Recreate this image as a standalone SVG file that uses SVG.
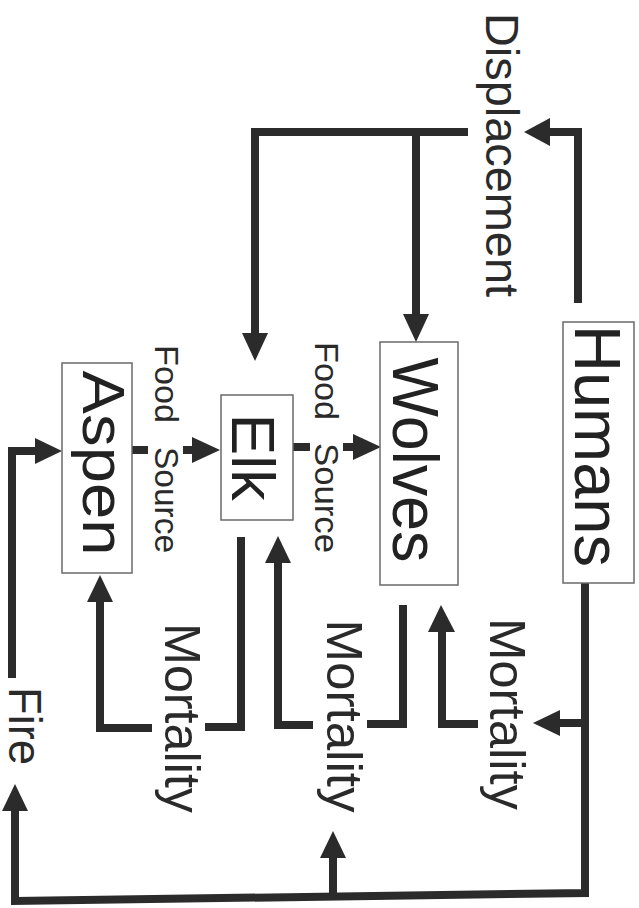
<svg xmlns="http://www.w3.org/2000/svg" width="639" height="908" viewBox="0 0 639 908">
<style>
.box{fill:#fff;stroke:#6a6a6a;stroke-width:1.5}
.node{font-family:"Liberation Sans",Arial,sans-serif;fill:#222}
.lbl{font-family:"Liberation Sans",Arial,sans-serif;fill:#2a2a2a}
.ln{fill:none;stroke:#2b2b2b;stroke-width:8;stroke-linejoin:miter;stroke-linecap:butt}
.ah{fill:#2b2b2b}
</style>
<rect width="639" height="908" fill="#fff"/>
<g id="connectors">
  <path class="ln" d="M468,132 H255 V335"/>
  <polygon class="ah" points="242,333 268,333 255,361"/>
  <path class="ln" d="M416,132 V316"/>
  <polygon class="ah" points="403,314 429,314 416,342"/>
  <path class="ln" d="M578,303 V132 H548"/>
  <polygon class="ah" points="550,118 550,146 524,132"/>
  <path class="ln" d="M132,450 H148"/>
  <path class="ln" d="M183,450 H195"/>
  <polygon class="ah" points="192,437 192,463 220,450"/>
  <path class="ln" d="M292,447 H310"/>
  <path class="ln" d="M343,447 H356"/>
  <polygon class="ah" points="353,434 353,460 381,447"/>
  <path class="ln" d="M12,678 V451 H37"/>
  <polygon class="ah" points="35,438 35,464 62,451"/>
  <path class="ln" d="M15,810 V901 L585,893 V583"/>
  <polygon class="ah" points="2,811 28,811 15,784"/>
  <path class="ln" d="M585,723 H558"/>
  <polygon class="ah" points="560,710 560,736 533,723"/>
  <path class="ln" d="M333,893 V856"/>
  <polygon class="ah" points="320,858 346,858 333,831"/>
  <path class="ln" d="M478,724 H442 V630"/>
  <polygon class="ah" points="428,632 455,632 441,605"/>
  <path class="ln" d="M403,605 V724 H367"/>
  <path class="ln" d="M313,725 H278 V561"/>
  <polygon class="ah" points="265,563 291,563 278,536"/>
  <path class="ln" d="M241,537 V727 H205"/>
  <path class="ln" d="M152,728 H100 V600"/>
  <polygon class="ah" points="87,602 113,602 100,575"/>
</g>
<g id="aspen">
  <rect class="box" x="62" y="363" width="70" height="210"/>
  <text class="node" font-size="60" text-anchor="middle" textLength="185" lengthAdjust="spacingAndGlyphs" transform="translate(83,463) rotate(90)">Aspen</text>
</g>
<g id="elk">
  <rect class="box" x="221" y="395" width="72" height="125"/>
  <text class="node" font-size="62" text-anchor="middle" textLength="87" lengthAdjust="spacingAndGlyphs" transform="translate(232,457) rotate(90)">Elk</text>
</g>
<g id="wolves">
  <rect class="box" x="380" y="342" width="78" height="243"/>
  <text class="node" font-size="64" text-anchor="middle" textLength="205" lengthAdjust="spacingAndGlyphs" transform="translate(393,460) rotate(90)">Wolves</text>
</g>
<g id="humans">
  <rect class="box" x="563" y="322" width="71" height="261"/>
  <text class="node" font-size="65" text-anchor="middle" textLength="242" lengthAdjust="spacingAndGlyphs" transform="translate(575,446) rotate(90)">Humans</text>
</g>
<g id="labels">
  <text class="lbl" font-size="47" text-anchor="middle" textLength="284" lengthAdjust="spacingAndGlyphs" transform="translate(486,155) rotate(90)">Displacement</text>
  <text class="lbl" font-size="34" transform="translate(155,0) rotate(90)"><tspan x="345" y="0" textLength="78" lengthAdjust="spacingAndGlyphs">Food</tspan><tspan x="447" y="0" textLength="106" lengthAdjust="spacingAndGlyphs">Source</tspan></text>
  <text class="lbl" font-size="34" transform="translate(315,0) rotate(90)"><tspan x="342" y="0" textLength="78" lengthAdjust="spacingAndGlyphs">Food</tspan><tspan x="443" y="0" textLength="110" lengthAdjust="spacingAndGlyphs">Source</tspan></text>
  <text class="lbl" font-size="50" text-anchor="middle" textLength="190" lengthAdjust="spacingAndGlyphs" transform="translate(165,718) rotate(90)">Mortality</text>
  <text class="lbl" font-size="50" text-anchor="middle" textLength="193" lengthAdjust="spacingAndGlyphs" transform="translate(327,716) rotate(90)">Mortality</text>
  <text class="lbl" font-size="50" text-anchor="middle" textLength="192" lengthAdjust="spacingAndGlyphs" transform="translate(490,714) rotate(90)">Mortality</text>
  <text class="lbl" font-size="46" text-anchor="middle" textLength="78" lengthAdjust="spacingAndGlyphs" transform="translate(9,726) rotate(90)">Fire</text>
</g>
</svg>
